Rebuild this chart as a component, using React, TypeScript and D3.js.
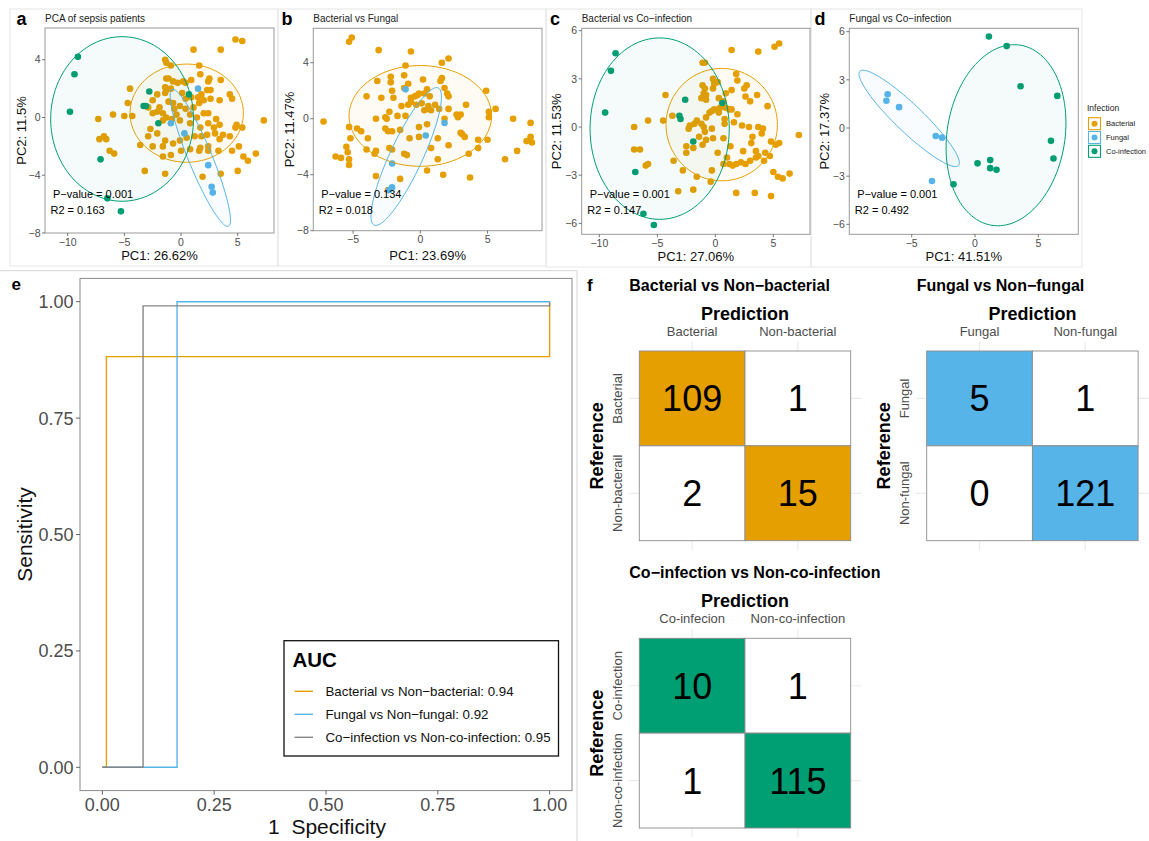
import React from "react";
import * as d3 from "d3";

const FONT = "Liberation Sans, Arial, Helvetica, sans-serif";
const C_BAC = "#E69F00";
const C_FUN = "#56B4E9";
const C_CO = "#009E73";
const C_GRAY = "#868686";
const TICK_TXT = "#4d4d4d";

type Pt = [number, number];
// ellipse: [cx, cy, semiA, semiB, angleDeg] in data units
type Ell = [number, number, number, number, number];

// ---------------- Panel a: PCA of sepsis patients ----------------
const aBacterial: Pt[] = [
  [4.8,5.4],[5.4,5.3],[1.1,4.7],[3.5,4.7],[-1.4,4.0],[-1.3,3.8],[-0.9,3.6],[1.6,3.6],[0.2,2.5],[-1.3,2.7],
  [-1.1,2.7],[-0.7,2.5],[-0.3,2.4],[0.4,2.4],[0.9,2.6],[1.7,3.0],[2.5,2.7],[2.4,2.5],[3.5,2.6],[-4.5,2.0],
  [-1.4,2.1],[-0.9,2.0],[-1.4,1.7],[-2.1,1.6],[-1.3,1.9],[1.8,1.6],[2.3,1.9],[2.6,1.9],[1.5,1.4],[0.9,1.4],
  [0.4,1.3],[0.1,1.7],[4.3,1.6],[-2.5,1.2],[-4.7,1.0],[-1.1,1.1],[-0.7,1.0],[-0.1,0.8],[0.4,0.6],[1.1,0.7],
  [1.6,1.0],[2.0,1.2],[2.6,1.3],[3.4,1.2],[4.5,1.3],[-1.9,0.7],[-2.1,0.4],[-2.5,0.3],[-2.9,0.7],[-1.6,0.3],
  [-1.3,0.0],[-0.6,0.6],[-0.4,0.2],[0.8,0.2],[1.4,0.0],[2.0,0.3],[2.4,0.3],[3.1,-0.1],[-7.3,-0.1],[-6.0,0.2],
  [-5.0,0.1],[-4.3,0.1],[-1.6,-0.2],[-0.8,-0.1],[-0.1,-0.2],[0.8,-0.4],[1.7,-0.7],[2.4,-0.4],[2.9,-0.7],[3.4,-0.5],
  [4.9,-0.5],[5.4,-0.7],[4.8,-0.7],[7.3,-0.2],[4.3,-1.3],[3.7,-1.2],[3.0,-1.1],[3.4,-1.5],[2.3,-1.2],[1.8,-1.3],
  [1.2,-1.3],[0.5,-1.4],[-0.1,-1.6],[-0.7,-1.8],[-1.4,-1.6],[-2.1,-1.1],[-2.7,-0.8],[-2.9,-1.3],[-3.6,-1.9],[-2.5,-2.0],
  [-1.6,-2.0],[-0.9,-2.6],[0.0,-2.3],[0.8,-2.2],[1.7,-2.1],[2.4,-2.0],[2.4,-2.3],[1.6,-2.3],[3.3,-2.3],[4.5,-2.3],
  [5.1,-2.0],[5.5,-2.7],[5.9,-3.0],[6.6,-2.5],[-7.2,-1.5],[-6.8,-1.3],[-6.6,-1.5],[-6.3,-2.3],[-5.9,-2.5],[-1.6,-2.7],
  [-3.2,-3.7],[-1.4,-3.9],[1.9,-4.1],[3.5,-3.9],[5.0,-3.7],
];
const aFungal: Pt[] = [[1.5,2.0],[-0.9,-0.4],[0.3,-1.1],[2.4,-3.3],[2.7,-4.8],[2.8,-5.2]];
const aCoinfection: Pt[] = [[-9.1,4.2],[-9.4,3.0],[-9.8,0.4],[-2.8,1.8],[-3.3,0.8],[-3.1,0.8],[-2.0,-0.4],[-7.1,-2.9],[-6.5,-5.6],[-5.3,-6.5],[0.7,1.6]];
const aEllBacterial: Ell = [0.5, 0.3, 5.0, 3.4, 0];
const aEllFungal: Ell = [1.7, -2.8, 5.35, 1.0, -62];
const aEllCoinfection: Ell = [-5.2, -0.1, 6.3, 5.7, 0];

// ---------------- Panel b: Bacterial vs Fungal ----------------
const bBacterial: Pt[] = [
  [-5.1,5.8],[-5.3,5.5],[-3.1,4.9],[-0.7,4.8],[2.1,4.3],[1.6,4.0],[-1.1,3.8],[-1.2,3.1],[-3.2,2.7],[-2.2,3.0],
  [-2.2,2.6],[-2.1,2.0],[-0.9,2.5],[-1.2,2.2],[0.2,2.8],[1.6,2.9],[1.5,2.7],[1.8,2.2],[2.0,1.8],[2.1,1.6],
  [-4.0,1.6],[-2.9,1.5],[-2.0,1.5],[-0.7,1.5],[-0.4,1.6],[-0.2,1.7],[-0.1,1.8],[0.3,1.8],[0.5,2.1],[0.7,1.6],
  [-0.7,1.2],[-0.3,1.0],[0.1,1.1],[0.6,0.9],[1.1,1.0],[-1.4,0.9],[-0.9,1.0],[-2.3,0.5],[-3.3,0.0],[-1.7,0.2],
  [-1.1,0.2],[0.3,0.6],[0.6,0.7],[0.8,0.6],[1.4,0.7],[2.1,0.7],[1.8,0.0],[2.7,0.3],[2.8,0.1],[3.0,0.3],
  [3.4,1.0],[4.9,2.0],[5.1,0.5],[5.1,0.1],[5.6,0.7],[6.9,0.0],[8.2,-0.3],[-7.2,-0.2],[-5.3,-0.6],[-4.7,-0.7],
  [-4.4,-0.9],[-5.2,-1.4],[-3.9,-1.4],[-2.6,0.1],[-2.5,0.0],[-2.6,-0.7],[-2.4,-0.9],[-2.1,-0.9],[-1.5,-0.8],[-0.8,-1.4],
  [-0.1,-0.6],[0.5,-0.4],[-0.1,-1.3],[1.3,-1.4],[0.8,-2.1],[2.1,-1.9],[3.0,-1.0],[3.1,-1.1],[3.3,-1.3],[4.3,-1.5],
  [3.6,-2.5],[5.0,-1.5],[4.3,-2.1],[6.3,-2.9],[7.2,-2.3],[7.9,-1.6],[8.2,-1.3],[8.3,-1.7],[-5.5,-2.0],[-5.4,-2.4],
  [-5.3,-2.9],[-6.3,-2.7],[-5.9,-2.8],[-4.0,-2.2],[-3.3,-2.3],[-3.4,-2.5],[-2.3,-2.1],[-2.1,-2.2],[-1.2,-2.5],[-1.0,-2.6],
  [1.3,-2.9],[1.7,-4.0],[0.5,-3.7],[-3.3,-4.1],[-1.5,-4.3],[3.7,-4.2],[-2.4,-5.1],[-5.3,-3.3],
];
const bFungal: Pt[] = [[-1.1,2.1],[1.8,-0.3],[0.4,-1.2],[-2.1,-3.2],[-2.1,-4.9],[-2.3,-5.1]];
const bEllBacterial: Ell = [0.0, 0.2, 5.3, 3.6, 0];
const bEllFungal: Ell = [-1.05, -2.7, 5.45, 1.2, 64];

// ---------------- Panel c: Bacterial vs Co-infection ----------------
const cBacterial: Pt[] = [
  [1.4,4.8],[3.7,4.7],[5.1,5.0],[5.5,5.2],[-1.1,4.0],[-0.9,4.0],[1.8,3.3],[1.9,2.9],[2.5,2.4],[2.7,2.6],
  [3.6,2.0],[1.4,2.3],[0.2,2.8],[-0.1,2.7],[-0.2,2.4],[-1.1,2.6],[-0.9,2.4],[-1.0,2.1],[-1.2,1.8],[-0.8,2.0],
  [-0.2,3.0],[-4.3,2.0],[0.3,1.8],[0.7,1.6],[0.4,1.2],[0.9,1.2],[1.2,1.1],[-0.5,0.9],[-0.8,0.6],[-0.1,1.1],
  [0.3,0.9],[0.8,0.5],[1.4,1.1],[1.9,0.8],[2.6,1.9],[3.0,1.6],[4.5,1.3],[-3.7,0.7],[-4.5,0.4],[-5.8,0.4],
  [-7.0,0.0],[-2.2,0.1],[-2.3,-0.1],[-1.8,0.2],[-1.6,0.4],[-1.2,0.2],[-1.0,0.0],[-0.9,-0.3],[-0.3,-0.1],[0.8,0.2],
  [1.6,0.3],[2.3,0.1],[2.9,0.0],[3.2,-0.6],[3.7,0.0],[4.1,-0.1],[4.8,-0.9],[5.2,-1.1],[5.5,-1.0],[4.3,-1.6],
  [4.7,-1.8],[4.2,-2.1],[3.5,-1.5],[3.7,-1.8],[2.4,-1.5],[1.3,-1.2],[0.7,-0.7],[-0.2,-0.7],[-0.8,-0.8],[-1.1,-1.1],
  [-1.9,-1.3],[-2.5,-1.2],[-2.5,-1.6],[-3.6,-2.1],[-2.8,-2.7],[-1.6,-3.1],[-1.9,-3.9],[-3.2,-4.0],[-0.4,-3.4],[1.2,-2.3],
  [1.8,-2.3],[2.2,-2.2],[2.6,-2.3],[1.0,-1.9],[1.8,-4.1],[3.4,-4.1],[4.8,-4.3],[5.0,-2.8],[5.4,-3.1],[5.8,-3.2],
  [6.4,-2.9],[7.2,-0.5],[-5.8,-2.3],[-6.0,-2.4],[-7.0,-1.4],[-6.5,-1.4],[-0.3,-2.7],[0.2,-1.6],[0.7,-2.3],[3.0,-2.1],
  [3.5,-1.9],[1.5,-2.4],[3.1,-1.0],[4.0,-0.4],[-0.8,1.7],[0.9,2.1],[-0.3,1.0],[-1.4,-0.6],
];
const cCoinfection: Pt[] = [[-8.6,4.6],[-9.0,3.5],[-9.5,0.9],[-2.6,1.7],[-3.1,0.7],[-3.0,0.5],[-1.9,-0.9],[-6.9,-2.8],[-6.2,-5.4],[-5.3,-6.1],[0.6,1.5]];
const cEllBacterial: Ell = [0.55, 0.15, 4.8, 3.5, 0];
const cEllCoinfection: Ell = [-4.8, -0.1, 6.0, 5.65, 0];

// ---------------- Panel d: Fungal vs Co-infection ----------------
const dFungal: Pt[] = [[-6.9,2.1],[-7.0,1.7],[-6.0,1.3],[-3.1,-0.5],[-2.6,-0.6],[-3.4,-3.3]];
const dCoinfection: Pt[] = [[1.1,5.7],[2.5,5.1],[3.6,2.6],[6.5,2.0],[6.0,-0.8],[6.2,-1.9],[1.2,-2.0],[1.2,-2.5],[1.7,-2.6],[0.2,-2.2],[-1.7,-3.5]];
const dEllFungal: Ell = [-5.2, 0.6, 4.88, 0.95, -36.5];
const dEllCoinfection: Ell = [2.45, -0.45, 5.75, 4.6, 71];

const pcaStats = [
  { p: "0.001", r2: "0.163" },
  { p: "0.134", r2: "0.018" },
  { p: "0.001", r2: "0.147" },
  { p: "0.001", r2: "0.492" },
];
const infectionLegend = ["Bacterial", "Fungal", "Co-infection"];

// ---------------- Panel e: ROC ----------------
type RocPt = { fpr: number; tpr: number };
const rocBacterial: RocPt[] = [{fpr:0,tpr:0},{fpr:0.009,tpr:0},{fpr:0.009,tpr:0.882},{fpr:1,tpr:0.882},{fpr:1,tpr:1}];
const rocFungal: RocPt[] = [{fpr:0,tpr:0},{fpr:0.167,tpr:0},{fpr:0.167,tpr:1},{fpr:1,tpr:1}];
const rocCoinfection: RocPt[] = [{fpr:0,tpr:0},{fpr:0.091,tpr:0},{fpr:0.091,tpr:0.991},{fpr:1,tpr:0.991},{fpr:1,tpr:1}];
const rocLabels = ["Bacterial vs Non\u2212bacterial: 0.94", "Fungal vs Non\u2212fungal: 0.92", "Co\u2212infection vs Non-co-infection: 0.95"];
const rocTicks = [0, 0.25, 0.5, 0.75, 1];

// ---------------- Panel f: confusion matrices ----------------
const cmBacterial = [[109, 1], [2, 15]];
const cmFungal = [[5, 1], [0, 121]];
const cmCoinfection = [[10, 1], [1, 115]];
const cmBacterialCols = ["Bacterial", "Non-bacterial"];
const cmBacterialRows = ["Bacterial", "Non-bacterail"];
const cmFungalCols = ["Fungal", "Non-fungal"];
const cmFungalRows = ["Fungal", "Non-fungal"];
const cmCoinfectionCols = ["Co-infecion", "Non-co-infection"];
const cmCoinfectionRows = ["Co-infection", "Non-co-infection"];

const fmtNum = (v: number) => String(v).replace("-", "\u2212");

function ellipsePath(e: Ell, xs: any, ys: any) {
  const [cx, cy, a, b, ang] = e;
  const th = (ang * Math.PI) / 180;
  const pts: [number, number][] = d3.range(0, 121).map((i) => {
    const t = (2 * Math.PI * i) / 120;
    const u = a * Math.cos(t);
    const v = b * Math.sin(t);
    return [xs(cx + u * Math.cos(th) - v * Math.sin(th)), ys(cy + u * Math.sin(th) + v * Math.cos(th))];
  });
  return (d3.line()(pts) || "") + "Z";
}

type Group = { pts: Pt[]; ell: Ell; color: string };
type PcaCfg = {
  id: string;
  letter: string;
  letterX: number;
  title: string;
  rect: { x0: number; x1: number; y0: number; y1: number };
  xDomain: [number, number];
  yDomain: [number, number];
  xTicks: number[];
  yTicks: number[];
  xLabel: string;
  yLabel: string;
  yLabelX: number;
  groups: Group[];
  stats: { p: string; r2: string };
};

function PcaPanel({ cfg }: { cfg: PcaCfg }) {
  const { x0, x1, y0, y1 } = cfg.rect;
  const xs = d3.scaleLinear().domain(cfg.xDomain).range([x0, x1]);
  const ys = d3.scaleLinear().domain(cfg.yDomain).range([y1, y0]);
  const clipId = "clip-" + cfg.id;
  const xTitleY = Math.max(259.5, y1 + 27);
  return (
    <g fontFamily={FONT}>
      <defs>
        <clipPath id={clipId}>
          <rect x={x0} y={y0} width={x1 - x0} height={y1 - y0} />
        </clipPath>
      </defs>
      <text x={cfg.letterX} y={25} fontSize={18} fontWeight="bold" fill="#000">{cfg.letter}</text>
      <text x={x0} y={21.5} fontSize={10} fill="#222">{cfg.title}</text>
      <g clipPath={`url(#${clipId})`}>
        {cfg.groups.map((g, gi) => (
          <g key={"p" + gi}>
            {g.pts.map((p, i) => (
              <circle key={i} cx={xs(p[0])} cy={ys(p[1])} r={3.3} fill={g.color} />
            ))}
          </g>
        ))}
        {cfg.groups.map((g, gi) => (
          <path key={"e" + gi} d={ellipsePath(g.ell, xs, ys)} fill={g.color} fillOpacity={0.04} stroke={g.color} strokeWidth={1} />
        ))}
      </g>
      <rect x={x0} y={y0} width={x1 - x0} height={y1 - y0} fill="none" stroke="#9a9a9a" strokeWidth={1} />
      {cfg.xTicks.map((t) => (
        <g key={"xt" + t}>
          <line x1={xs(t)} x2={xs(t)} y1={y1} y2={y1 + 3} stroke="#555" strokeWidth={0.8} />
          <text x={xs(t)} y={y1 + 12.5} fontSize={10.5} fill={TICK_TXT} textAnchor="middle">{fmtNum(t)}</text>
        </g>
      ))}
      {cfg.yTicks.map((t) => (
        <g key={"yt" + t}>
          <line x1={x0 - 3} x2={x0} y1={ys(t)} y2={ys(t)} stroke="#555" strokeWidth={0.8} />
          <text x={x0 - 4.5} y={ys(t) + 3.7} fontSize={10.5} fill={TICK_TXT} textAnchor="end">{fmtNum(t)}</text>
        </g>
      ))}
      <text x={(x0 + x1) / 2} y={xTitleY} fontSize={13} fill="#111" textAnchor="middle">{cfg.xLabel}</text>
      <text
        x={cfg.yLabelX + 4.6}
        y={(y0 + y1) / 2}
        fontSize={13}
        fill="#111"
        textAnchor="middle"
        transform={`rotate(-90, ${cfg.yLabelX + 4.6}, ${(y0 + y1) / 2})`}
      >
        {cfg.yLabel}
      </text>
      <text x={x0 + 8} y={197.5} fontSize={11} fill="#000">{"P\u2212value = " + cfg.stats.p}</text>
      <text x={x0 + 5.5} y={214} fontSize={11} fill="#000">{"R2 = " + cfg.stats.r2}</text>
    </g>
  );
}

function InfectionLegend() {
  const colors = [C_BAC, C_FUN, C_CO];
  return (
    <g fontFamily={FONT}>
      <text x={1087} y={110.5} fontSize={8.5} fill="#222">Infection</text>
      {infectionLegend.map((lab, i) => {
        const cy = 123.7 + i * 13.8;
        return (
          <g key={lab}>
            <rect x={1088.5} y={cy - 6} width={12} height={12} fill="#fff" stroke={colors[i]} strokeWidth={1.1} />
            <circle cx={1094.5} cy={cy} r={3} fill={colors[i]} />
            <text x={1106} y={cy + 2.7} fontSize={7.5} fill="#222">{lab}</text>
          </g>
        );
      })}
    </g>
  );
}

function RocPanel() {
  const x0 = 80, x1 = 572, y0 = 278.4, y1 = 790.6;
  const xs = d3.scaleLinear().domain([-0.05, 1.05]).range([x0, x1]);
  const ys = d3.scaleLinear().domain([-0.05, 1.05]).range([y1, y0]);
  const line = d3.line<RocPt>().x((d) => xs(d.fpr)).y((d) => ys(d.tpr));
  const series = [
    { data: rocBacterial, color: C_BAC },
    { data: rocFungal, color: C_FUN },
    { data: rocCoinfection, color: C_GRAY },
  ];
  const fmt = d3.format(".2f");
  return (
    <g fontFamily={FONT}>
      <text x={11.5} y={290} fontSize={17} fontWeight="bold" fill="#000">e</text>
      <rect x={x0} y={y0} width={x1 - x0} height={y1 - y0} fill="#fff" stroke="#8a8a8a" strokeWidth={1} />
      {series.map((s, i) => (
        <path key={i} d={line(s.data) || ""} fill="none" stroke={s.color} strokeWidth={1.4} />
      ))}
      {rocTicks.map((t) => (
        <g key={"x" + t}>
          <line x1={xs(t)} x2={xs(t)} y1={y1} y2={y1 + 4} stroke="#555" strokeWidth={0.9} />
          <text x={xs(t)} y={810.5} fontSize={18} fill={TICK_TXT} textAnchor="middle">{fmt(t)}</text>
        </g>
      ))}
      {rocTicks.map((t) => (
        <g key={"y" + t}>
          <line x1={x0 - 4} x2={x0} y1={ys(t)} y2={ys(t)} stroke="#555" strokeWidth={0.9} />
          <text x={x0 - 6.5} y={ys(t) + 6.5} fontSize={18} fill={TICK_TXT} textAnchor="end">{fmt(t)}</text>
        </g>
      ))}
      <text x={(x0 + x1) / 2 + 1} y={834} fontSize={21} fill="#111" textAnchor="middle" style={{ whiteSpace: "pre" }}>
        {"1  Specificity"}
      </text>
      <text x={31.5} y={534.5} fontSize={21} fill="#111" textAnchor="middle" transform="rotate(-90, 31.5, 534.5)">
        Sensitivity
      </text>
      <rect x={284} y={640.7} width={274.5} height={115.3} fill="#fff" stroke="#111" strokeWidth={1.3} />
      <text x={292.5} y={666.5} fontSize={20.5} fontWeight="bold" fill="#000">AUC</text>
      {rocLabels.map((lab, i) => {
        const cy = 691.3 + i * 23;
        return (
          <g key={lab}>
            <line x1={294.5} x2={313} y1={cy} y2={cy} stroke={series[i].color} strokeWidth={1.4} />
            <text x={325.5} y={cy + 4.7} fontSize={13.3} fill="#111">{lab}</text>
          </g>
        );
      })}
    </g>
  );
}

function ConfMatrix({ left, top, title, cols, rows, values, color }: {
  left: number; top: number; title: string; cols: string[]; rows: string[]; values: number[][]; color: string;
}) {
  const cw = 105.7, ch = 94.85;
  const xs = d3.scaleBand<number>().domain([0, 1]).range([left, left + 2 * cw]);
  const ys = d3.scaleBand<number>().domain([0, 1]).range([top, top + 2 * ch]);
  const right = left + 2 * cw, bottom = top + 2 * ch;
  const cx = (left + right) / 2, cy = (top + bottom) / 2;
  return (
    <g fontFamily={FONT}>
      {[0, 1].map((i) => (
        <line key={"gv" + i} x1={xs(i)! + cw / 2} x2={xs(i)! + cw / 2} y1={top - 9.5} y2={bottom + 9.5} stroke="#ebebeb" strokeWidth={1.2} />
      ))}
      {[0, 1].map((i) => (
        <line key={"gh" + i} x1={left - 10.6} x2={right + 10.6} y1={ys(i)! + ch / 2} y2={ys(i)! + ch / 2} stroke="#ebebeb" strokeWidth={1.2} />
      ))}
      {values.map((row, r) =>
        row.map((v, c) => (
          <g key={r + "-" + c}>
            <rect x={xs(c)} y={ys(r)} width={cw} height={ch} fill={r === c ? color : "#ffffff"} stroke="#8c8c8c" strokeWidth={0.9} />
            <text x={xs(c)! + cw / 2} y={ys(r)! + ch / 2 + 13} fontSize={36} textAnchor="middle" fill="#000">{v}</text>
          </g>
        ))
      )}
      <text x={left - 10} y={top - 60.3} fontSize={16} fontWeight="bold" fill="#000">{title}</text>
      <text x={cx} y={top - 31.5} fontSize={18} fontWeight="bold" textAnchor="middle" fill="#000">Prediction</text>
      {cols.map((c, i) => (
        <text key={c} x={xs(i)! + cw / 2} y={top - 15.5} fontSize={13} textAnchor="middle" fill={TICK_TXT}>{c}</text>
      ))}
      {rows.map((r, i) => {
        const yy = ys(i)! + ch / 2;
        const xx = left - 17.3;
        return (
          <text key={r} x={xx} y={yy} fontSize={13} textAnchor="middle" fill={TICK_TXT} transform={`rotate(-90, ${xx}, ${yy})`}>{r}</text>
        );
      })}
      <text x={left - 36.3} y={cy} fontSize={18} fontWeight="bold" textAnchor="middle" fill="#000" transform={`rotate(-90, ${left - 36.3}, ${cy})`}>Reference</text>
    </g>
  );
}

const pcaConfigs: PcaCfg[] = [
  {
    id: "a", letter: "a", letterX: 16.5, title: "PCA of sepsis patients",
    rect: { x0: 45, x1: 274, y0: 28, y1: 233 },
    xDomain: [-12.0, 8.2], yDomain: [-8.0, 6.2],
    xTicks: [-10, -5, 0, 5], yTicks: [-8, -4, 0, 4],
    xLabel: "PC1: 26.62%", yLabel: "PC2: 11.5%", yLabelX: 21.7,
    groups: [
      { pts: aBacterial, ell: aEllBacterial, color: C_BAC },
      { pts: aFungal, ell: aEllFungal, color: C_FUN },
      { pts: aCoinfection, ell: aEllCoinfection, color: C_CO },
    ],
    stats: pcaStats[0],
  },
  {
    id: "b", letter: "b", letterX: 281.5, title: "Bacterial vs Fungal",
    rect: { x0: 313.3, x1: 542, y0: 28.3, y1: 230.7 },
    xDomain: [-7.96, 9.05], yDomain: [-8.0, 6.46],
    xTicks: [-5, 0, 5], yTicks: [-8, -4, 0, 4],
    xLabel: "PC1: 23.69%", yLabel: "PC2: 11.47%", yLabelX: 289,
    groups: [
      { pts: bBacterial, ell: bEllBacterial, color: C_BAC },
      { pts: bFungal, ell: bEllFungal, color: C_FUN },
    ],
    stats: pcaStats[1],
  },
  {
    id: "c", letter: "c", letterX: 550, title: "Bacterial vs Co\u2212infection",
    rect: { x0: 581.7, x1: 810, y0: 28.3, y1: 234.3 },
    xDomain: [-11.52, 8.16], yDomain: [-6.68, 6.15],
    xTicks: [-10, -5, 0, 5], yTicks: [-6, -3, 0, 3, 6],
    xLabel: "PC1: 27.06%", yLabel: "PC2: 11.53%", yLabelX: 556.7,
    groups: [
      { pts: cBacterial, ell: cEllBacterial, color: C_BAC },
      { pts: cCoinfection, ell: cEllCoinfection, color: C_CO },
    ],
    stats: pcaStats[2],
  },
  {
    id: "d", letter: "d", letterX: 814.5, title: "Fungal vs Co\u2212infection",
    rect: { x0: 849.3, x1: 1078.3, y0: 28.3, y1: 234.3 },
    xDomain: [-9.93, 8.16], yDomain: [-6.62, 6.21],
    xTicks: [-5, 0, 5], yTicks: [-6, -3, 0, 3, 6],
    xLabel: "PC1: 41.51%", yLabel: "PC2: 17.37%", yLabelX: 824.5,
    groups: [
      { pts: dFungal, ell: dEllFungal, color: C_FUN },
      { pts: dCoinfection, ell: dEllCoinfection, color: C_CO },
    ],
    stats: pcaStats[3],
  },
];

export default function App() {
  const frame = "#e6e6e6";
  return (
    <svg width={1149} height={841} style={{ position: "absolute", left: 0, top: 0, background: "#fff" }}>
      <rect x={0} y={0} width={1149} height={841} fill="#fff" />
      <rect x={10} y={9} width={268} height={257} fill="none" stroke={frame} />
      <rect x={278} y={9} width={268} height={257} fill="none" stroke={frame} />
      <rect x={546} y={9} width={265} height={258} fill="none" stroke={frame} />
      <rect x={811} y={9} width={271} height={258} fill="none" stroke={frame} />
      <line x1={0} x2={577} y1={270.7} y2={270.7} stroke="#d6d6d6" />
      <line x1={577} x2={577} y1={270.7} y2={841} stroke="#d6d6d6" />
      {pcaConfigs.map((c) => (
        <PcaPanel key={c.id} cfg={c} />
      ))}
      <InfectionLegend />
      <RocPanel />
      <text x={587} y={290.7} fontSize={17} fontWeight="bold" fontFamily={FONT} fill="#000">f</text>
      <ConfMatrix left={639.3} top={351} title={"Bacterial vs Non\u2212bacterial"} cols={cmBacterialCols} rows={cmBacterialRows} values={cmBacterial} color={C_BAC} />
      <ConfMatrix left={926.7} top={351} title={"Fungal vs Non\u2212fungal"} cols={cmFungalCols} rows={cmFungalRows} values={cmFungal} color={C_FUN} />
      <ConfMatrix left={639.3} top={638.3} title={"Co\u2212infection vs Non-co-infection"} cols={cmCoinfectionCols} rows={cmCoinfectionRows} values={cmCoinfection} color={C_CO} />
    </svg>
  );
}
